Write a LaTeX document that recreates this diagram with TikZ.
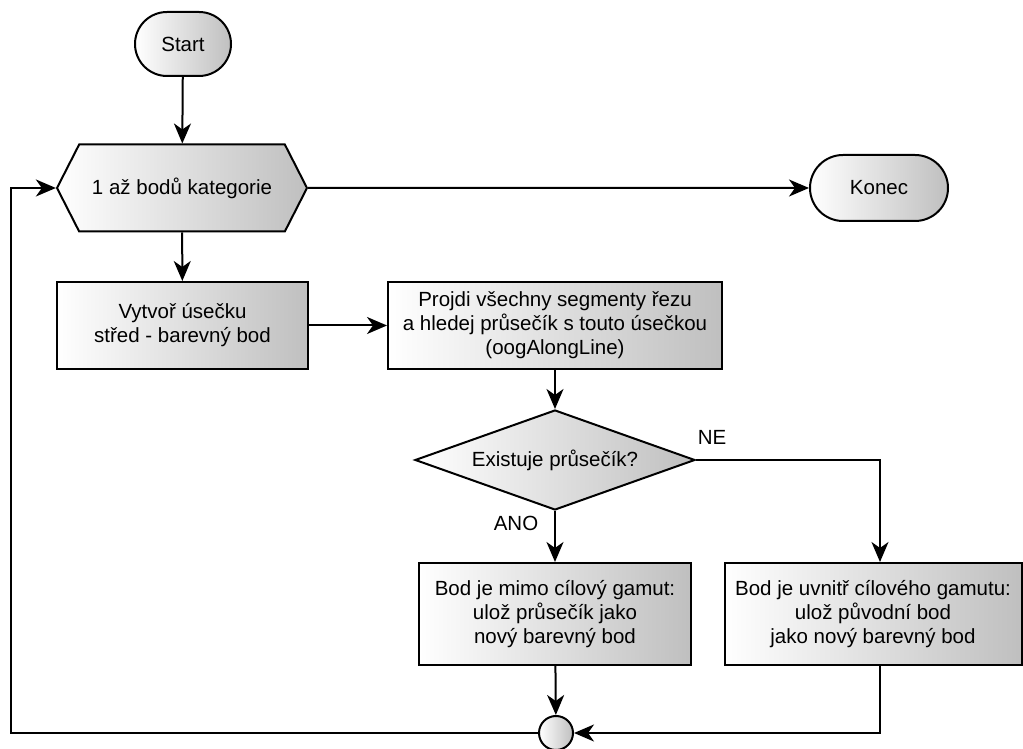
\documentclass[tikz,border=0pt]{standalone}
\usepackage{fontspec}
\setmainfont{Liberation Sans}
\usetikzlibrary{shapes.geometric,shapes.misc,shapes.symbols,arrows.meta}
\tikzstyle{everynode}=[draw=black,line width=2pt,left color=white,right color=black!25,font=\fontsize{20.5}{24}\selectfont,align=center,inner sep=0pt]
\tikzstyle{term}=[everynode,rounded rectangle]
\tikzstyle{loopnode}=[everynode,signal,signal to=west and east,signal pointer angle=126]
\tikzstyle{proc}=[everynode,rectangle]
\tikzstyle{decide}=[everynode,diamond,aspect=2.8]
\tikzstyle{joinnode}=[everynode,circle,minimum size=34pt]
\tikzstyle{lbl}=[font=\fontsize{20.5}{24}\selectfont,inner sep=0pt]
\tikzset{flow/.style={line width=2pt,-{Stealth[length=20pt,width=17pt,inset=6pt]}}}

\begin{document}
\begin{tikzpicture}[x=1pt,y=1pt]
    \useasboundingbox (0,0) rectangle (1023,749);
    \node[term,minimum width=96pt,minimum height=64pt] (start) at (183,705) {Start};
    \node[loopnode,minimum width=250pt,minimum height=87pt] (cat) at (182,561) {1 až bodů kategorie};
    \node[term,minimum width=138pt,minimum height=66pt] (end) at (879,561) {Konec};
    \node[proc,minimum width=251pt,minimum height=87pt] (line) at (182.5,423.5) {Vytvoř úsečku\\střed - barevný bod};
    \node[proc,minimum width=334pt,minimum height=87pt] (seg) at (555,423.5) {Projdi všechny segmenty řezu\\a hledej průsečík s touto úsečkou\\(oogAlongLine)};
    \node[decide,minimum width=280pt,minimum height=100pt] (test) at (555,289) {Existuje průsečík?};
    \node[proc,minimum width=272pt,minimum height=102pt] (out) at (555,135) {Bod je mimo cílový gamut:\\ulož průsečík jako\\nový barevný bod};
    \node[proc,minimum width=297pt,minimum height=102pt] (in) at (873,135) {Bod je uvnitř cílového gamutu:\\ulož původní bod\\jako nový barevný bod};
    \node[joinnode] (merge) at (556,16) {};
    \node[lbl] (ano) at (516,226) {ANO};
    \node[lbl] (ne) at (712,312) {NE};
    \coordinate (nebend) at (880,289);
    \coordinate (back) at (11,16);
    \draw[flow] (start) -- (cat);
    \draw[flow] (cat) -- (end);
    \draw[flow] (cat) -- (line);
    \draw[flow] (line) -- (seg);
    \draw[flow] (seg) -- (test);
    \draw[flow] (test) -- (out);
    \draw[flow] (test.east) -- (nebend) -- (nebend |- in.north);
    \draw[flow] (out) -- (merge);
    \draw[flow] (nebend |- in.south) |- (merge.east);
    \draw[flow] (merge.west) -- (back) |- (cat.west);
\end{tikzpicture}
\end{document}
